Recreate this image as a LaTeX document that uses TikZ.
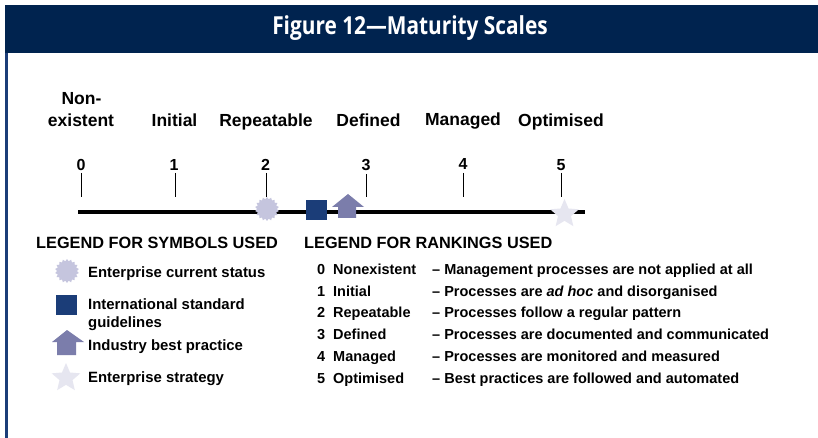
\documentclass[tikz,border=0pt]{standalone}
\usepackage{fontspec}
\setmainfont{Liberation Sans}
\newfontfamily\titlefont[FakeStretch=0.84]{Open Sans}
\usetikzlibrary{shapes.geometric}
\definecolor{navy}{HTML}{00234F}
\definecolor{sq}{HTML}{1B3D78}
\definecolor{burst}{HTML}{C5C5DE}
\definecolor{arr}{HTML}{7B7DAB}
\definecolor{st}{HTML}{E6E6F0}
\tikzset{
 x=1pt,y=-1pt,
 lab/.style={font=\bfseries\fontsize{17.5}{20}\selectfont,inner sep=0pt,text=black,anchor=base},
 num/.style={font=\bfseries\fontsize{16}{18}\selectfont,inner sep=0pt,text=black,anchor=base},
 leg/.style={font=\bfseries\fontsize{14.9}{18}\selectfont,inner sep=0pt,anchor=base west,align=left,text=black},
 head/.style={font=\bfseries\fontsize{16.3}{18}\selectfont,inner sep=0pt,anchor=base west,text=black},
 rk/.style={font=\bfseries\fontsize{14.5}{16}\selectfont,inner sep=0pt,anchor=base west,text=black},
 tickl/.style={line width=1.5pt,black},
 sqs/.style={fill=sq,draw=none,minimum width=21pt,minimum height=20pt,inner sep=0pt},
 bursts/.style={star,star points=18,star point ratio=1.22,fill=burst,draw=none,minimum size=24pt,inner sep=0pt},
 stars/.style={star,star points=5,star point ratio=2.2,fill=st,draw=none,minimum size=30pt,inner sep=0pt},
 arrs/.style={fill=arr,draw=none},
}
\begin{document}
\begin{tikzpicture}
\useasboundingbox (0,0) rectangle (818,438);
\fill[white] (0,0) rectangle (818,438);
\fill[navy] (5,5) rectangle (818,53);
\fill[sq] (5,53) rectangle (7.7,438);
\node[inner sep=0pt,text=white,font=\titlefont\bfseries\fontsize{24.8}{26}\selectfont] (title) at (410,28) {Figure 12—Maturity Scales};
% labels
\node[lab] (l0a) at (81.5,105) {Non-};
\node[lab] (l0) at (81,127) {existent};
\node[lab] (l1) at (174.5,127) {Initial};
\node[lab] (l2) at (266,127) {Repeatable};
\node[lab] (l3) at (368.5,127) {Defined};
\node[lab] (l4) at (463,126) {Managed};
\node[lab] (l5) at (561,127) {Optimised};
% numbers
\node[num] (n0) at (81,171) {0};
\node[num] (n1) at (174,171) {1};
\node[num] (n2) at (265.5,171) {2};
\node[num] (n3) at (366,171) {3};
\node[num] (n4) at (463,170) {4};
\node[num] (n5) at (561,171) {5};
% axis
\coordinate (as) at (78,212);
\coordinate (ae) at (585,212);
\draw[line width=3.6pt,black] (as) -- (ae);
\foreach \n/\x/\ya/\yb in {0/81.5/173/197,1/175.5/173/197,2/266.5/173/197,3/366.5/174/197,4/463.5/173/197,5/561.5/173/197}{
 \draw[tickl] (\x,\ya) -- (\x,\yb);
}
% symbols on axis
\node[bursts] (s1) at (267,209) {};
\node[sqs] (s2) at (316.5,210) {};
\fill[arrs] (348,194) -- (364,207) -- (356,207) -- (356,218) -- (338,218) -- (338,207) -- (332,207) -- cycle;
\node[stars] (s4) at (564.5,214) {};
% legend symbols
\node[head] (h1) at (36,248) {LEGEND FOR SYMBOLS USED};
\node[bursts] (b1) at (67,271) {};
\node[leg] (t1) at (88,277) {Enterprise current status};
\node[sqs] (b2) at (66.5,305) {};
\node[leg] (t2) at (88,327) {International standard\\guidelines};
\fill[arrs] (67,330) -- (84,342) -- (76,342) -- (76,355) -- (57,355) -- (57,342) -- (52,342) -- cycle;
\node[leg] (t3) at (88,350) {Industry best practice};
\node[stars] (b4) at (66,378) {};
\node[leg] (t4) at (88,382) {Enterprise strategy};
% rankings
\node[head] (h2) at (304,248) {LEGEND FOR RANKINGS USED};
\foreach \n/\y/\a/\b in {
 0/274/Nonexistent/{– Management processes are not applied at all},
 1/296/Initial/{– Processes are \textit{ad hoc} and disorganised},
 2/317/Repeatable/{– Processes follow a regular pattern},
 3/339/Defined/{– Processes are documented and communicated},
 4/361/Managed/{– Processes are monitored and measured},
 5/383/Optimised/{– Best practices are followed and automated}}{
 \node[rk] (r\n) at (317,\y) {\n};
 \node[rk] (m\n) at (333,\y) {\a};
 \node[rk] (d\n) at (432,\y) {\b};
}
\end{tikzpicture}
\end{document}
